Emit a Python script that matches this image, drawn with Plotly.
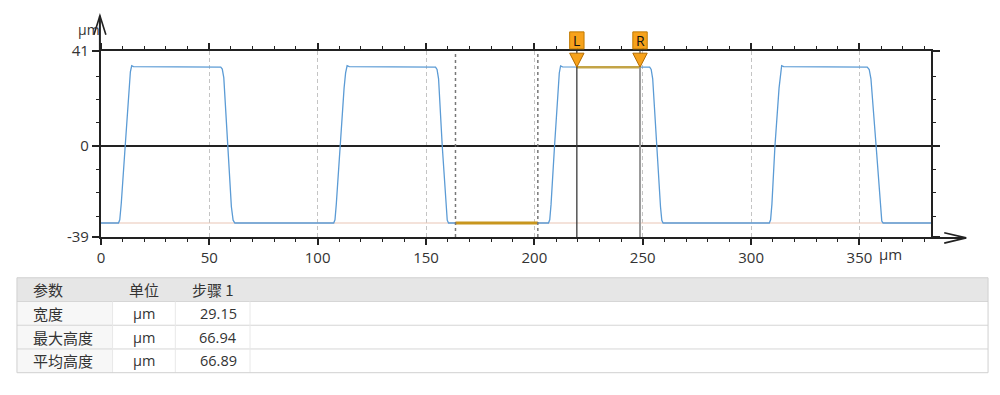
import plotly.graph_objects as go

W, H = 1000, 395

# ---------------- data ----------------
profile_x = [0.0, 8.1, 8.7, 9.4, 11.2, 13.0, 13.6, 14.2, 15.0, 55.3, 56.0, 56.7, 58.4, 60.2, 61.0, 61.8,
             107.4, 108.0, 108.6, 110.3, 112.2, 112.9, 113.6, 114.6, 154.4, 155.1, 155.8, 157.5, 159.2, 159.8, 160.4,
             206.5, 207.1, 207.7, 209.3, 211.0, 211.5, 212.1, 213.0, 253.2, 253.9, 254.6, 256.4, 258.2, 258.8, 259.4,
             308.4, 309.0, 309.6, 311.0, 312.9, 313.5, 314.1, 315.0, 353.6, 354.5, 355.3, 357.7, 359.7, 360.3, 360.9,
             383.0]
profile_y = [-33.0, -33.0, -31.6, -24.5, 0.0, 25.0, 32.0, 34.6, 34.2, 34.0, 33.2, 29.5, 0.0, -26.0, -31.8, -33.0,
             -33.0, -31.6, -25.0, 0.0, 25.0, 31.5, 34.6, 34.2, 34.0, 33.0, 29.0, 0.0, -26.0, -31.8, -33.0,
             -33.0, -31.6, -25.0, 0.0, 25.5, 31.5, 34.5, 34.1, 34.0, 33.0, 29.0, 0.0, -26.0, -31.8, -33.0,
             -33.0, -31.6, -25.0, 0.0, 25.0, 31.5, 34.6, 34.2, 34.0, 33.0, 29.0, 0.0, -28.3, -32.2, -33.0,
             -33.0]

x_range = [0, 383]
y_range = [-39, 41]
ref_level = -33.0            # reference (bottom) level
top_level = 34.0             # measured top level
ref_region = [163.6, 201.6]  # reference region bounds
cursor_L = 219.6
cursor_R = 248.75

x_tick_vals = [0, 50, 100, 150, 200, 250, 300, 350]
x_tick_text = ["0", "50", "100", "150", "200", "250", "300", "350"]
x_minor_vals = [10, 20, 30, 40, 60, 70, 80, 90, 110, 120, 130, 140, 160, 170, 180, 190, 210, 220, 230, 240,
                260, 270, 280, 290, 310, 320, 330, 340, 360, 370, 380]
y_tick_vals = [-39, 0, 41]
y_tick_text = ["-39", "0", "41"]
y_minor_vals = [-30, -20, -10, 10, 20, 30]

table_header = ["参数", "单位", "步骤 1"]
table_params = ["宽度", "最大高度", "平均高度"]
table_units = ["µm", "µm", "µm"]
table_values = ["29.15", "66.94", "66.89"]

# ---------------- helpers ----------------
def PX(x):
    return x / W

def PY(y):
    return 1 - y / H

FONT = "Open Sans, Noto Sans CJK SC, sans-serif"
CJK = "Noto Sans CJK SC, Open Sans, sans-serif"
AX = "#222222"
TXT = "#333333"

plot_left, plot_right, plot_top, plot_bottom = 97.3, 930.7, 42, 238

fig = go.Figure()

# reference level line
fig.add_trace(go.Scatter(x=x_range, y=[ref_level, ref_level], mode="lines",
                         line=dict(color="#e9c6b6", width=1.2), hoverinfo="skip"))
# profile
fig.add_trace(go.Scatter(x=profile_x, y=profile_y, mode="lines",
                         line=dict(color="#5b9bd5", width=1.3), hoverinfo="skip"))
# reference region segment
fig.add_trace(go.Scatter(x=ref_region, y=[ref_level, ref_level], mode="lines",
                         line=dict(color="#c8961e", width=3), hoverinfo="skip"))
# measured segment between cursors
fig.add_trace(go.Scatter(x=[cursor_L, cursor_R], y=[top_level, top_level], mode="lines",
                         line=dict(color="#c3a447", width=2.5), hoverinfo="skip"))

shapes = []
# dotted region bounds
for xv in ref_region:
    shapes.append(dict(type="line", xref="x", yref="y", x0=xv, x1=xv, y0=y_range[0], y1=y_range[1],
                       line=dict(color="#777777", width=1.5, dash="dot")))
# cursor lines
shapes.append(dict(type="line", xref="x", yref="y", x0=cursor_L, x1=cursor_L, y0=y_range[0], y1=y_range[1],
                   line=dict(color="#3a3a3a", width=1.3)))
shapes.append(dict(type="line", xref="x", yref="y", x0=cursor_R, x1=cursor_R, y0=y_range[0], y1=y_range[1],
                   line=dict(color="#9a9a9a", width=2)))

# cursor markers (box + triangle)
for xv in (cursor_L, cursor_R):
    shapes.append(dict(type="rect", xref="x", xsizemode="pixel", xanchor=xv, x0=-7.2, x1=7.2,
                       yref="paper", ysizemode="pixel", yanchor=PY(plot_top), y0=2, y1=19,
                       fillcolor="#f7a21b", line=dict(color="#c07a00", width=1)))
    shapes.append(dict(type="path", xref="x", xsizemode="pixel", xanchor=xv,
                       yref="paper", ysizemode="pixel", yanchor=PY(plot_top),
                       path="M -7.2,-2.3 L 7.2,-2.3 L 0,-16.3 Z",
                       fillcolor="#f7a21b", line=dict(color="#b36b00", width=1)))

# axis arrows
shapes.append(dict(type="line", xref="paper", yref="paper", x0=PX(plot_left - 1), x1=PX(plot_left - 1),
                   y0=PY(plot_top), y1=PY(5), line=dict(color=AX, width=2)))
shapes.append(dict(type="path", xref="paper", yref="paper",
                   path=f"M {PX(90.3)},{PY(25)} L {PX(96.3)},{PY(5)} L {PX(102.3)},{PY(25)}",
                   line=dict(color=AX, width=1.6)))
shapes.append(dict(type="line", xref="paper", yref="paper", x0=PX(plot_right), x1=PX(966),
                   y0=PY(plot_bottom + 1), y1=PY(plot_bottom + 1), line=dict(color=AX, width=2)))
shapes.append(dict(type="path", xref="paper", yref="paper",
                   path=f"M {PX(944)},{PY(233.5)} L {PX(966)},{PY(239)} L {PX(944)},{PY(244.5)}",
                   line=dict(color=AX, width=1.6)))

# ---------------- table ----------------
col_edges = [13, 109, 172, 247, 988]
t_top, row_h = 281, 25
n_rows = 1 + len(table_params)
t_bottom = t_top + n_rows * row_h

shapes.append(dict(type="rect", xref="paper", yref="paper", x0=PX(col_edges[0]), x1=PX(col_edges[-1]),
                   y0=PY(t_top), y1=PY(t_top + row_h), fillcolor="#e6e6e6", line=dict(width=0), layer="below"))
shapes.append(dict(type="rect", xref="paper", yref="paper", x0=PX(col_edges[0]), x1=PX(col_edges[1]),
                   y0=PY(t_top + row_h), y1=PY(t_bottom), fillcolor="#f7f7f7", line=dict(width=0), layer="below"))
for r in range(1, n_rows):
    yv = t_top + r * row_h
    shapes.append(dict(type="line", xref="paper", yref="paper", x0=PX(col_edges[0]), x1=PX(col_edges[-1]),
                       y0=PY(yv), y1=PY(yv), line=dict(color="#d6d6d6", width=1)))
for c in col_edges[1:-1]:
    shapes.append(dict(type="line", xref="paper", yref="paper", x0=PX(c), x1=PX(c),
                       y0=PY(t_top + row_h), y1=PY(t_bottom), line=dict(color="#e8e8e8", width=1)))
shapes.append(dict(type="rect", xref="paper", yref="paper", x0=PX(col_edges[0]), x1=PX(col_edges[-1]),
                   y0=PY(t_top), y1=PY(t_bottom), line=dict(color="#d0d0d0", width=1)))

annotations = []
def txt(x, y, s, anchor="left", font=FONT, size=14, color=TXT):
    annotations.append(dict(xref="paper", yref="paper", x=PX(x), y=PY(y), text=s, showarrow=False,
                            xanchor=anchor, yanchor="middle", font=dict(family=font, size=size, color=color)))

hy = t_top + row_h / 2
txt(col_edges[0] + 14, hy, table_header[0], "left", CJK, 15)
txt((col_edges[1] + col_edges[2]) / 2, hy, table_header[1], "center", CJK, 15)
txt((col_edges[2] + col_edges[3]) / 2, hy, table_header[2], "center", CJK, 15)
for i in range(len(table_params)):
    ry = t_top + (i + 1) * row_h + row_h / 2
    txt(col_edges[0] + 14, ry, table_params[i], "left", CJK, 15)
    txt((col_edges[1] + col_edges[2]) / 2, ry, table_units[i], "center", FONT, 14.5)
    txt(col_edges[3] - 11, ry, table_values[i], "right", FONT, 14.5)

# axis unit labels
txt(85, 20, "µm", "center", FONT, 14)
annotations.append(dict(xref="x", yref="paper", x=x_tick_vals[-1], y=PY(256), text="µm", showarrow=False,
                        xanchor="left", yanchor="middle", xshift=18,
                        font=dict(family=FONT, size=15, color=TXT)))
# cursor labels
for xv, lab in ((cursor_L, "L"), (cursor_R, "R")):
    annotations.append(dict(xref="x", yref="paper", x=xv, y=PY(31.5), text=lab, showarrow=False,
                            xanchor="center", yanchor="middle",
                            font=dict(family=FONT, size=14, color="#111111")))

fig.update_layout(
    width=W, height=H, margin=dict(l=0, r=0, t=0, b=0),
    paper_bgcolor="white", plot_bgcolor="white",
    showlegend=False, hovermode=False,
    font=dict(family=FONT, size=15, color=TXT),
    shapes=shapes, annotations=annotations,
    xaxis=dict(domain=[PX(plot_left), PX(plot_right)], range=x_range,
               tickmode="array", tickvals=x_tick_vals, ticktext=x_tick_text,
               ticks="outside", ticklen=6, tickwidth=1.5, tickcolor=AX,
               showline=True, linecolor=AX, linewidth=2, mirror="ticks",
               showgrid=True, gridcolor="#c4c4c4", griddash="4px,3px", gridwidth=1,
               zeroline=False, tickfont=dict(size=15, color=TXT),
               minor=dict(tickmode="array", tickvals=x_minor_vals, ticks="outside", ticklen=3,
                          tickwidth=1.2, tickcolor=AX, showgrid=False),
               fixedrange=True),
    yaxis=dict(domain=[PY(plot_bottom), PY(plot_top)], range=y_range,
               tickmode="array", tickvals=y_tick_vals, ticktext=y_tick_text,
               ticks="outside", ticklen=7, tickwidth=1.5, tickcolor=AX,
               showline=True, linecolor=AX, linewidth=2, mirror="ticks",
               showgrid=False, zeroline=True, zerolinecolor=AX, zerolinewidth=2,
               tickfont=dict(size=15, color=TXT),
               minor=dict(tickmode="array", tickvals=y_minor_vals, ticks="outside", ticklen=3,
                          tickwidth=1.2, tickcolor=AX, showgrid=False),
               fixedrange=True),
)

fig.write_html("out.html", config={"displayModeBar": False})
